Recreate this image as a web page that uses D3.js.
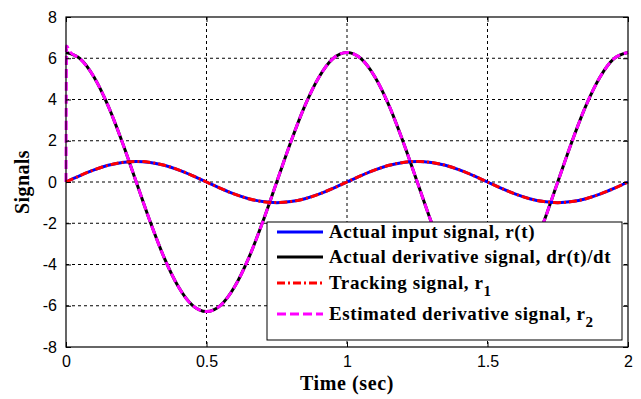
<!DOCTYPE html>
<html>
<head>
<meta charset="utf-8">
<script src="https://cdn.jsdelivr.net/npm/d3@7"></script>
<style>
body{margin:0;background:#fff;}
.tick text{font-family:"Liberation Sans",Arial,sans-serif;font-size:16px;fill:#000;}
</style>
</head>
<body>
<div id="chart"></div>
<script>
// values
var time = [0,0.05,0.1,0.15,0.2,0.25,0.3,0.35,0.4,0.45,0.5,0.55,0.6,0.65,0.7,0.75,0.8,0.85,0.9,0.95,
            1,1.05,1.1,1.15,1.2,1.25,1.3,1.35,1.4,1.45,1.5,1.55,1.6,1.65,1.7,1.75,1.8,1.85,1.9,1.95,2];
var inputSignal = [0,0.31,0.59,0.81,0.95,1,0.95,0.81,0.59,0.31,0,-0.31,-0.59,-0.81,-0.95,-1,-0.95,-0.81,-0.59,-0.31,
                   0,0.31,0.59,0.81,0.95,1,0.95,0.81,0.59,0.31,0,-0.31,-0.59,-0.81,-0.95,-1,-0.95,-0.81,-0.59,-0.31,0];
var derivSignal = [6.28,5.98,5.08,3.69,1.94,0,-1.94,-3.69,-5.08,-5.98,-6.28,-5.98,-5.08,-3.69,-1.94,0,1.94,3.69,5.08,5.98,
                   6.28,5.98,5.08,3.69,1.94,0,-1.94,-3.69,-5.08,-5.98,-6.28,-5.98,-5.08,-3.69,-1.94,0,1.94,3.69,5.08,5.98,6.28];
var trackSignal = inputSignal.slice();
var estTime = [0,0.002,0.012].concat(time.slice(1));
var estSignal = [0,6.6,6.35].concat(derivSignal.slice(1));

var xTicks = [0,0.5,1,1.5,2];
var yTicks = [-8,-6,-4,-2,0,2,4,6,8];
var legendLabels = ["Actual input signal, r(t)","Actual derivative signal, dr(t)/dt","Tracking signal, r","Estimated derivative signal, r"];
var legendSubs = ["","","1","2"];

var width = 641, height = 399;
var m = {left:66, right:13, top:17, bottom:52};
var svg = d3.select("#chart").append("svg").attr("width",width).attr("height",height);

var x = d3.scaleLinear().domain([0,2]).range([m.left,width-m.right]);
var y = d3.scaleLinear().domain([-8,8]).range([height-m.bottom,m.top]);
var serif = "'Liberation Serif','Times New Roman',serif";

// grid
var grid = svg.append("g").attr("stroke","#000").attr("stroke-width",1).attr("stroke-dasharray","3,3");
grid.selectAll(".gx").data(xTicks.slice(1,-1)).enter().append("line")
  .attr("x1",d=>x(d)).attr("x2",d=>x(d)).attr("y1",y(8)).attr("y2",y(-8));
grid.selectAll(".gy").data(yTicks.slice(1,-1)).enter().append("line")
  .attr("x1",x(0)).attr("x2",x(2)).attr("y1",d=>y(d)).attr("y2",d=>y(d));

svg.append("clipPath").attr("id","clip").append("rect")
  .attr("x",x(0)-2).attr("y",y(8)).attr("width",x(2)-x(0)+4).attr("height",y(-8)-y(8));

var line = d3.line().x(d=>x(d[0])).y(d=>y(d[1])).curve(d3.curveMonotoneX);
var plot = svg.append("g").attr("clip-path","url(#clip)");
function zip(a,b){return a.map((t,i)=>[t,b[i]]);}

plot.append("path").attr("d",line(zip(time,derivSignal))).attr("fill","none").attr("stroke","#000").attr("stroke-width",3);
plot.append("path").attr("d",line(zip(estTime,estSignal))).attr("fill","none").attr("stroke","#ff00ff").attr("stroke-width",3).attr("stroke-dasharray","9,4");
plot.append("path").attr("d",line(zip(time,inputSignal))).attr("fill","none").attr("stroke","#0000ff").attr("stroke-width",3);
plot.append("path").attr("d",line(zip(time,trackSignal))).attr("fill","none").attr("stroke","#ff0000").attr("stroke-width",3).attr("stroke-dasharray","8,3,2,3");

// axes
var fmt = d=>String(d);
svg.append("g").attr("transform","translate(0,"+y(-8)+")")
  .call(d3.axisBottom(x).tickValues(xTicks).tickSize(-5).tickPadding(9).tickFormat(fmt))
  .call(g=>g.select(".domain").remove());
svg.append("g").attr("transform","translate(0,"+y(8)+")")
  .call(d3.axisTop(x).tickValues(xTicks).tickSize(-5).tickFormat(""))
  .call(g=>g.select(".domain").remove());
svg.append("g").attr("transform","translate("+x(0)+",0)")
  .call(d3.axisLeft(y).tickValues(yTicks).tickSize(-5).tickPadding(9).tickFormat(fmt))
  .call(g=>g.select(".domain").remove());
svg.append("g").attr("transform","translate("+x(2)+",0)")
  .call(d3.axisRight(y).tickValues(yTicks).tickSize(-5).tickFormat(""))
  .call(g=>g.select(".domain").remove());
svg.append("rect").attr("x",x(0)).attr("y",y(8)).attr("width",x(2)-x(0)).attr("height",y(-8)-y(8))
  .attr("fill","none").attr("stroke","#000").attr("stroke-width",1.2);

// labels
svg.append("text").attr("x",(x(0)+x(2))/2).attr("y",390).attr("text-anchor","middle")
  .style("font-family",serif).style("font-weight","bold").style("font-size","20px").style("letter-spacing","0.6px")
  .text("Time (sec)");
svg.append("text").attr("transform","translate(29,"+y(0)+") rotate(-90)").attr("text-anchor","middle")
  .style("font-family",serif).style("font-weight","bold").style("font-size","20px").style("letter-spacing","0.4px")
  .text("Signals");

// legend
var lg = svg.append("g");
lg.append("rect").attr("x",267).attr("y",222).attr("width",355).attr("height",118)
  .attr("fill","#fff").attr("stroke","#000").attr("stroke-width",1);
var lgY = [232,257,283,314];
var lgStyle = [["#0000ff",null],["#000",null],["#ff0000","8,3,2,3"],["#ff00ff","9,4"]];
legendLabels.forEach(function(l,i){
  lg.append("line").attr("x1",277).attr("x2",323).attr("y1",lgY[i]).attr("y2",lgY[i])
    .attr("stroke",lgStyle[i][0]).attr("stroke-width",3).attr("stroke-dasharray",lgStyle[i][1]);
  var t = lg.append("text").attr("x",329).attr("y",lgY[i]+6)
    .style("font-family",serif).style("font-weight","bold").style("font-size","19px").style("letter-spacing","0.6px")
    .text(l);
  if (legendSubs[i]) t.append("tspan").attr("dy",7).style("font-size","15px").text(legendSubs[i]);
});
</script>
</body>
</html>
